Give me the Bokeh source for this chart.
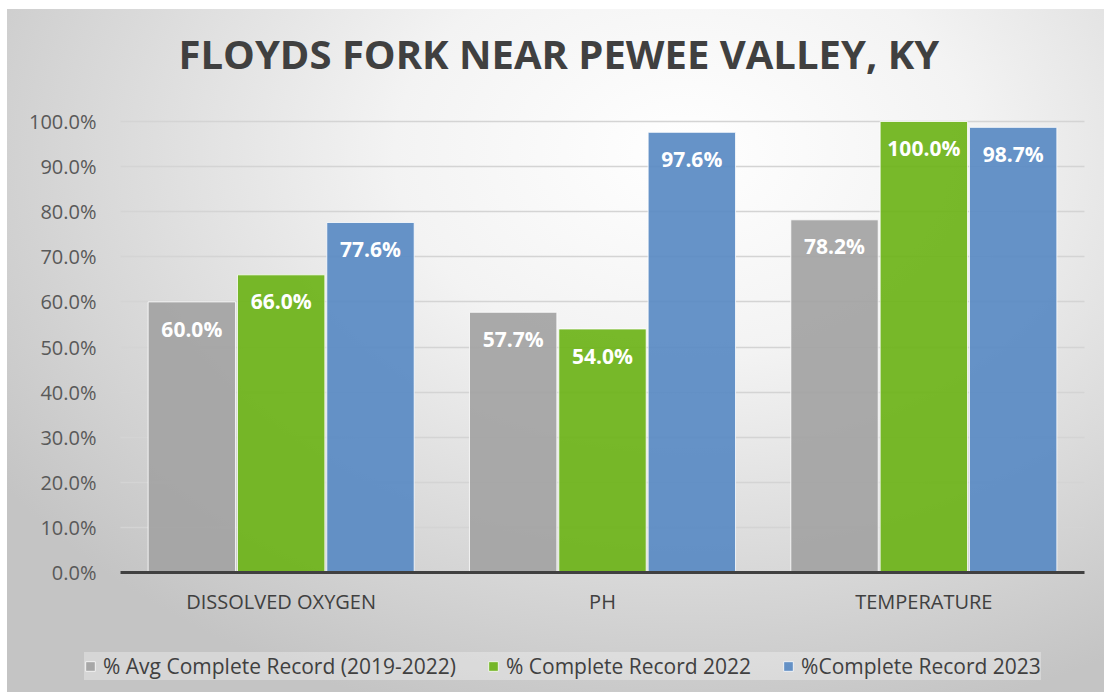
from bokeh.plotting import figure
from bokeh.models import (ColumnDataSource, Range1d, Legend, LegendItem, Grid,
                          PrintfTickFormatter, FixedTicker)
from bokeh.transform import dodge
from bokeh.core.properties import value
from bokeh.embed import file_html
from bokeh.resources import INLINE

categories = ["DISSOLVED OXYGEN", "PH", "TEMPERATURE"]
avg_2019_2022 = [60.0, 57.7, 78.2]
rec_2022 = [66.0, 54.0, 100.0]
rec_2023 = [77.6, 97.6, 98.7]
series_names = ["% Avg Complete Record (2019-2022)", "% Complete Record 2022", "%Complete Record 2023"]
y_ticks = [0, 10, 20, 30, 40, 50, 60, 70, 80, 90, 100]

colors = ["#A3A3A3", "#6DB318", "#598AC3"]
FONT = "Open Sans"

# layout constants (pixels): value axis 0..100 spans 572..121, categories span 120..1084
W, H = 1104, 692
PL, PR, PT, PB = 120, 1084, 121, 572
FRAME_TOP = 100
n = len(categories)
px_per_cat = (PR - PL) / n
px_per_pct = (PB - PT) / 100.0
x_start = -PL / px_per_cat
x_end = n + (W - PR) / px_per_cat
y_start = -(H - PB) / px_per_pct
y_end = 100 + (PT - FRAME_TOP) / px_per_pct

label_drop = 5.9  # data units below bar top for value labels

centers = [i + 0.5 for i in range(n)]
src = ColumnDataSource(dict(
    xc=centers,
    a=avg_2019_2022, b=rec_2022, c=rec_2023,
    a_lab=[f"{v:.1f}%" for v in avg_2019_2022],
    b_lab=[f"{v:.1f}%" for v in rec_2022],
    c_lab=[f"{v:.1f}%" for v in rec_2023],
    a_y=[v - label_drop for v in avg_2019_2022],
    b_y=[v - label_drop for v in rec_2022],
    c_y=[v - label_drop for v in rec_2023],
))

p = figure(width=W, height=H, x_range=Range1d(x_start, x_end), y_range=Range1d(y_start, y_end),
           output_backend="svg", toolbar_location=None,
           min_border_left=0, min_border_right=0, min_border_top=FRAME_TOP, min_border_bottom=0)
p.styles = {"background": ("linear-gradient(#ffffff,#ffffff) 0 0 / 100% 9px no-repeat, "
                           "linear-gradient(#ffffff,#ffffff) 0 0 / 7px 100% no-repeat, "
                           "radial-gradient(ellipse 75% 85% at 62% 22%, #ffffff 0%, #f3f3f3 35%, "
                           "#d6d6d6 75%, #c4c4c4 100%)")}
p.border_fill_color = None
p.background_fill_color = None
p.outline_line_color = None

p.title.text = "FLOYDS FORK NEAR PEWEE VALLEY, KY"
p.title.text_font = FONT
p.title.text_font_size = "40px"
p.title.text_font_style = "bold"
p.title.text_color = "#404040"
p.title.align = "left"
p.title.offset = 178
p.title.standoff = 40

offsets = [-0.278, 0.0, 0.278]
keys = ["a", "b", "c"]
renderers = []
for k, off, col in zip(keys, offsets, colors):
    r = p.vbar(x=dodge("xc", off), top=k, width=0.272, bottom=0, source=src,
               fill_color=col, fill_alpha=0.92, line_color="white", line_width=1, line_alpha=0.8)
    renderers.append(r)
    p.text(x=dodge("xc", off), y=f"{k}_y", text=f"{k}_lab", source=src,
           text_color="white", text_font=value(FONT), text_font_size="21px", text_font_style="bold",
           text_align="center", text_baseline="middle")

p.xgrid.grid_line_color = None
p.ygrid.grid_line_color = "#d4d4d4"
p.ygrid.grid_line_width = 1.5
p.ygrid.ticker = FixedTicker(ticks=y_ticks)
if "cross_bounds" in Grid.properties():
    p.ygrid.cross_bounds = (0, n)

p.yaxis.fixed_location = 0
p.yaxis.ticker = FixedTicker(ticks=y_ticks)
p.yaxis.formatter = PrintfTickFormatter(format="%.1f%%")
p.yaxis.axis_line_color = None
p.yaxis.major_tick_line_color = None
p.yaxis.minor_tick_line_color = None
p.yaxis.major_label_standoff = 18
p.yaxis.major_label_text_font = FONT
p.yaxis.major_label_text_font_size = "20px"
p.yaxis.major_label_text_color = "#595959"

p.xaxis.fixed_location = 0
p.xaxis.bounds = (0, n)
p.xaxis.ticker = FixedTicker(ticks=centers)
p.xaxis.major_label_overrides = {c: name for c, name in zip(centers, categories)}
p.xaxis.axis_line_color = "#404040"
p.xaxis.axis_line_width = 3
p.xaxis.major_tick_line_color = None
p.xaxis.minor_tick_line_color = None
p.xaxis.major_label_standoff = 9
p.xaxis.major_label_text_font = FONT
p.xaxis.major_label_text_font_size = "20px"
p.xaxis.major_label_text_color = "#404040"

legend = Legend(items=[LegendItem(label=nm, renderers=[r]) for nm, r in zip(series_names, renderers)],
                orientation="horizontal", location=(84, 12))
legend.label_text_font = FONT
legend.label_text_font_size = "21px"
legend.label_text_color = "#404040"
legend.glyph_width = 12
legend.glyph_height = 12
legend.label_standoff = 7
legend.spacing = 31
legend.padding = 9
legend.margin = 0
legend.background_fill_color = "white"
legend.background_fill_alpha = 0.3
legend.border_line_color = None
p.add_layout(legend, "center")

open("out.html", "w").write(file_html(p, INLINE))
